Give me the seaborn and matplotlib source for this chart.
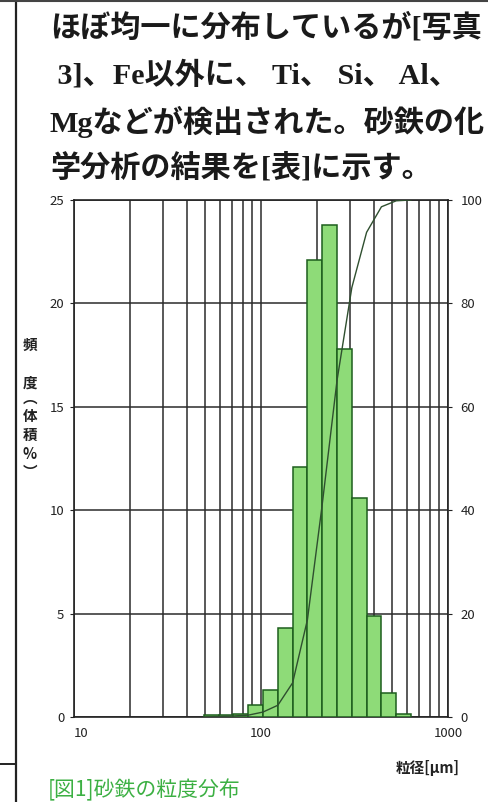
import numpy as np
import pandas as pd
import matplotlib
matplotlib.use("Agg")
import matplotlib.pyplot as plt
import seaborn as sns

# Particle-size classes (µm, bin edges) and volume frequency per class (%)
edges_um = [49.4, 59.3, 71.2, 85.4, 102.5, 123.0, 147.6, 177.1, 212.5,
            255.0, 306.0, 367.0, 440.6, 528.7, 634.4]
freq_pct = [0.1, 0.1, 0.15, 0.6, 1.3, 4.3, 12.1, 22.1, 23.8,
            17.8, 10.6, 4.9, 1.15, 0.15]

x_ticks = [10, 100, 1000]
x_tick_labels = ["10", "100", "1000"]
y_ticks = [0, 5, 10, 15, 20, 25]
y2_ticks = [0, 20, 40, 60, 80, 100]

body_lines = [
    "ほぼ均一に分布しているが[写真",
    " 3]、Fe以外に、 Ti、 Si、 Al、",
    "Mgなどが検出された。砂鉄の化",
    "学分析の結果を[表]に示す。",
]
caption = "[図1]砂鉄の粒度分布"
x_label = "粒径[μm]"

sns.set_style("white")
plt.rcParams["font.family"] = ["Noto Sans CJK JP", "DejaVu Sans"]

W, H = 488, 802
fig = plt.figure(figsize=(W / 100, H / 100), dpi=100)
fig.patch.set_facecolor("white")


def fx(px):
    return px / W


def fy(py):
    return 1 - py / H


# page rules
fig.add_artist(plt.Line2D([fx(16), fx(16)], [0, 1], color="#222222", lw=1.6))
fig.add_artist(plt.Line2D([0, 1], [fy(1), fy(1)], color="#444444", lw=1.5))
fig.add_artist(plt.Line2D([0, fx(16)], [fy(764), fy(764)], color="#222222", lw=1.4))

# body text: Latin letters in a serif face, Japanese in Noto Sans CJK
line_y = [28, 75, 122, 168]
for s, yy in zip(body_lines, line_y):
    fig.text(fx(50), fy(yy), s, fontsize=21.7, fontweight="semibold",
             family=["Liberation Serif", "Noto Sans CJK JP"],
             color="#1a1a1a", va="center", ha="left")

# plot area
left, right, top, bottom = 74, 448, 200, 717
ax = fig.add_axes([fx(left), fy(bottom), fx(right) - fx(left), fy(top) - fy(bottom)])

df = pd.DataFrame({
    "size": np.sqrt(np.array(edges_um[:-1]) * np.array(edges_um[1:])),
    "freq": freq_pct,
})
log_bins = [float(v) for v in np.log10(edges_um)]
sns.histplot(data=df, x="size", weights="freq", bins=log_bins,
             log_scale=True, stat="count", ax=ax, color="#8edb78",
             edgecolor="#1d5e1d", linewidth=1.1, alpha=1.0, zorder=3)

ax.set_xlim(10, 1000)
ax.set_ylim(0, 25)
ax.set_xticks(x_ticks)
ax.set_xticklabels(x_tick_labels)
ax.set_yticks(y_ticks)
ax.set_xlabel("")
ax.set_ylabel("")
ax.set_axisbelow(True)
ax.grid(True, which="both", axis="x", color="#2b2b2b", lw=1.1)
ax.grid(True, which="major", axis="y", color="#2b2b2b", lw=1.1)
ax.tick_params(axis="x", which="minor", length=0)
ax.tick_params(axis="x", which="major", length=0, pad=7, labelsize=9.5, colors="#222222")
ax.tick_params(axis="y", length=3, pad=4, labelsize=9.5, colors="#222222")
for sp in ax.spines.values():
    sp.set_color("#222222")
    sp.set_linewidth(1.2)
lbls = ax.get_xticklabels()
lbls[0].set_ha("left")

# cumulative volume curve on the right-hand axis
cum = np.concatenate([[0.0], np.cumsum(freq_pct)])
cum = cum / cum[-1] * 100
ax2 = ax.twinx()
sns.lineplot(x=edges_um, y=cum, ax=ax2, color="#2f4f2f", lw=1.0, zorder=5)
ax2.set_ylim(0, 100)
ax2.set_yticks(y2_ticks)
ax2.set_ylabel("")
ax2.tick_params(axis="y", length=3, pad=6, labelsize=9.5, colors="#222222")
ax2.set_xlim(10, 1000)
for sp in ax2.spines.values():
    sp.set_visible(False)

# axis titles (vertical writing)
ylab_kw = dict(fontsize=10.5, fontweight="bold", color="#222222", ha="center", va="center")
fig.text(fx(30), fy(345), "頻", **ylab_kw)
fig.text(fx(30), fy(383), "度", **ylab_kw)
fig.text(fx(30), fy(435), "︵\n体\n積\n%\n︶", linespacing=1.2, **ylab_kw)
fig.text(fx(460), fy(768), x_label, fontsize=10.5, fontweight="bold",
         color="#222222", ha="right", va="center")

# figure caption
fig.text(fx(48), fy(790), caption, fontsize=15, color="#3cb043",
         ha="left", va="center")

fig.savefig("out.png", dpi=100, facecolor="white")
